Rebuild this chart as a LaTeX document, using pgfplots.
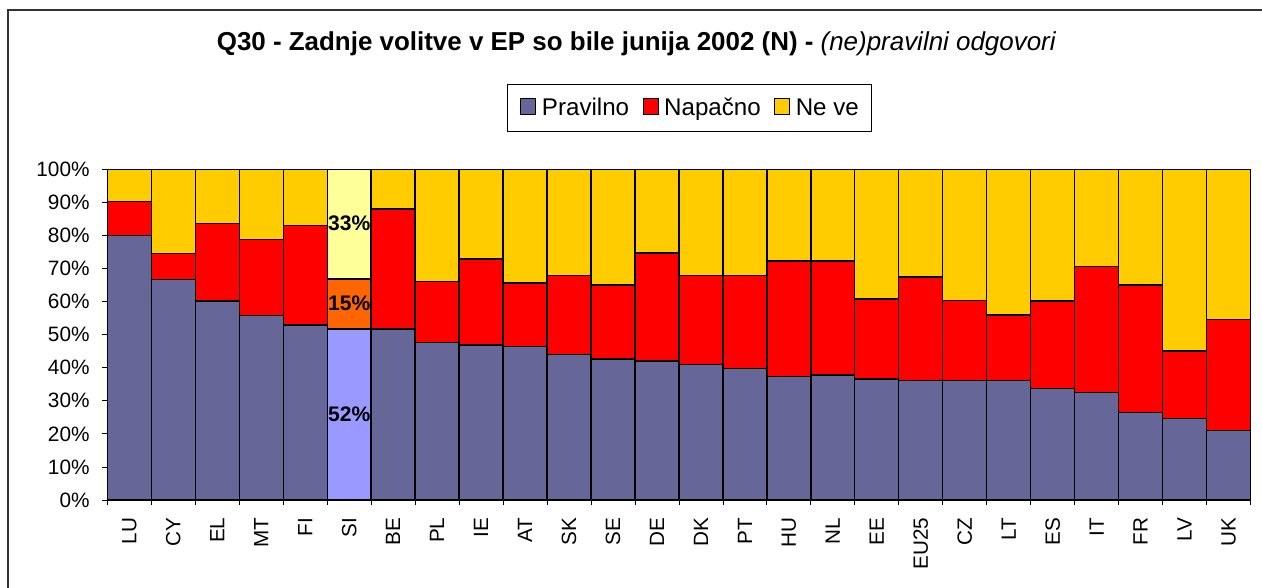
\documentclass[border=0pt]{standalone}
\usepackage{pgfplots}
\pgfplotsset{compat=1.18}
\usepackage{pgfplotstable}
\usepackage{fontspec}
\setmainfont{Liberation Sans}
\definecolor{cblue}{HTML}{666699}
\definecolor{cred}{HTML}{FF0000}
\definecolor{cyel}{HTML}{FFCC00}
\definecolor{sblue}{HTML}{9999FF}
\definecolor{sred}{HTML}{FF6600}
\definecolor{syel}{HTML}{FFFF99}
\definecolor{frame}{HTML}{333333}

% x  Pravilno Napacno NeVe | SI-highlight columns
\pgfplotstableread{
x  p    n    d    sp   sn   sd
0  80.0 10.3 9.7  0    0    0
1  66.8 7.8  25.4 0    0    0
2  60.2 23.5 16.3 0    0    0
3  55.9 22.9 21.2 0    0    0
4  52.9 30.2 16.9 0    0    0
5  0    0    0    51.7 15.2 33.1
6  51.7 36.3 12.0 0    0    0
7  47.6 18.6 33.8 0    0    0
8  46.9 26.0 27.1 0    0    0
9  46.4 19.3 34.3 0    0    0
10 44.0 24.0 32.0 0    0    0
11 42.7 22.3 35.0 0    0    0
12 42.1 32.6 25.3 0    0    0
13 40.9 27.0 32.1 0    0    0
14 39.7 28.2 32.1 0    0    0
15 37.3 35.0 27.7 0    0    0
16 37.8 34.5 27.7 0    0    0
17 36.6 24.2 39.2 0    0    0
18 36.2 31.3 32.5 0    0    0
19 36.2 24.1 39.7 0    0    0
20 36.2 19.8 44.0 0    0    0
21 33.7 26.5 39.8 0    0    0
22 32.5 38.1 29.4 0    0    0
23 26.5 38.5 35.0 0    0    0
24 24.6 20.5 54.9 0    0    0
25 21.0 33.7 45.3 0    0    0
}\datatable

\newcommand{\lt}[1]{\raisebox{0pt}[10.15pt][0pt]{#1}}

\begin{document}
\begin{tikzpicture}
\useasboundingbox (0,0) rectangle (946.5pt,441pt);
\draw[line width=1.25pt, color=frame] (6pt,-20pt) -- (6pt,433.5pt) -- (980pt,433.5pt);
\node[anchor=base, font=\fontsize{19.45pt}{23pt}\selectfont] at (477.4pt,402.75pt)
  {\textbf{Q30 - Zadnje volitve v EP so bile junija 2002 (N) -} \textit{(ne)pravilni odgovori}};
\begin{axis}[
  at={(80.5pt,66pt)}, anchor=south west,
  width=857.4pt, height=247.9pt, scale only axis,
  ybar stacked, bar width=1,
  xmin=-0.5, xmax=25.5, ymin=0, ymax=100,
  xtick={0,...,25},
  xticklabels={LU,CY,EL,MT,FI,SI,BE,PL,IE,AT,SK,SE,DE,DK,PT,HU,NL,EE,EU25,CZ,LT,ES,IT,FR,LV,UK},
  major x tick style={draw=none},
  minor xtick={-0.5,0.5,...,25.5},
  minor tick length=3.75pt,
  ytick={0,10,...,100},
  major tick length=3.75pt,
  tick align=outside,
  xtick pos=bottom, ytick pos=left,
  tick style={black, line width=0.6pt},
  /pgf/number format/assume math mode=true,
  yticklabel={\pgfmathprintnumber{\tick}\%},
  yticklabel style={font=\fontsize{15.6pt}{18pt}\selectfont, xshift=-6pt},
  xticklabel style={font=\fontsize{15.5pt}{18pt}\selectfont, rotate=90, anchor=east, xshift=-6pt},
  axis line style={black, line width=0.8pt},
  legend columns=3,
  legend style={at={(0.5093,1.186)}, anchor=center, draw=black, line width=0.6pt,
    font=\fontsize{18.1pt}{21pt}\selectfont, inner xsep=9.6pt, inner ysep=10.35pt,
    nodes={inner sep=0pt},
    /tikz/every odd column/.append style={column sep=4.3pt},
    /tikz/every even column/.append style={column sep=10pt}},
  legend image code/.code={\draw[#1, line width=0.7pt] (0pt,-3.3pt) rectangle (11.25pt,8.7pt);},
  every axis plot/.append style={draw=black, line width=1pt},
  clip=false,
]
\addplot[fill=cblue] table[x=x,y=p] {\datatable};
\addplot[fill=cred] table[x=x,y=n] {\datatable};
\addplot[fill=cyel] table[x=x,y=d] {\datatable};
\addplot[fill=sblue] table[x=x,y=sp] {\datatable};
\addplot[fill=sred] table[x=x,y=sn] {\datatable};
\addplot[fill=syel] table[x=x,y=sd] {\datatable};
\legend{\lt{Pravilno},\lt{Napačno},\lt{Ne ve}}
\coordinate (lab1) at (axis cs:5,25.8);
\coordinate (lab2) at (axis cs:5,59.4);
\coordinate (lab3) at (axis cs:5,83.7);
\end{axis}
\node[font=\bfseries\fontsize{15.8pt}{18pt}\selectfont] at (lab1) {52\%};
\node[font=\bfseries\fontsize{15.8pt}{18pt}\selectfont] at (lab2) {15\%};
\node[font=\bfseries\fontsize{15.8pt}{18pt}\selectfont] at (lab3) {33\%};
\end{tikzpicture}
\end{document}
